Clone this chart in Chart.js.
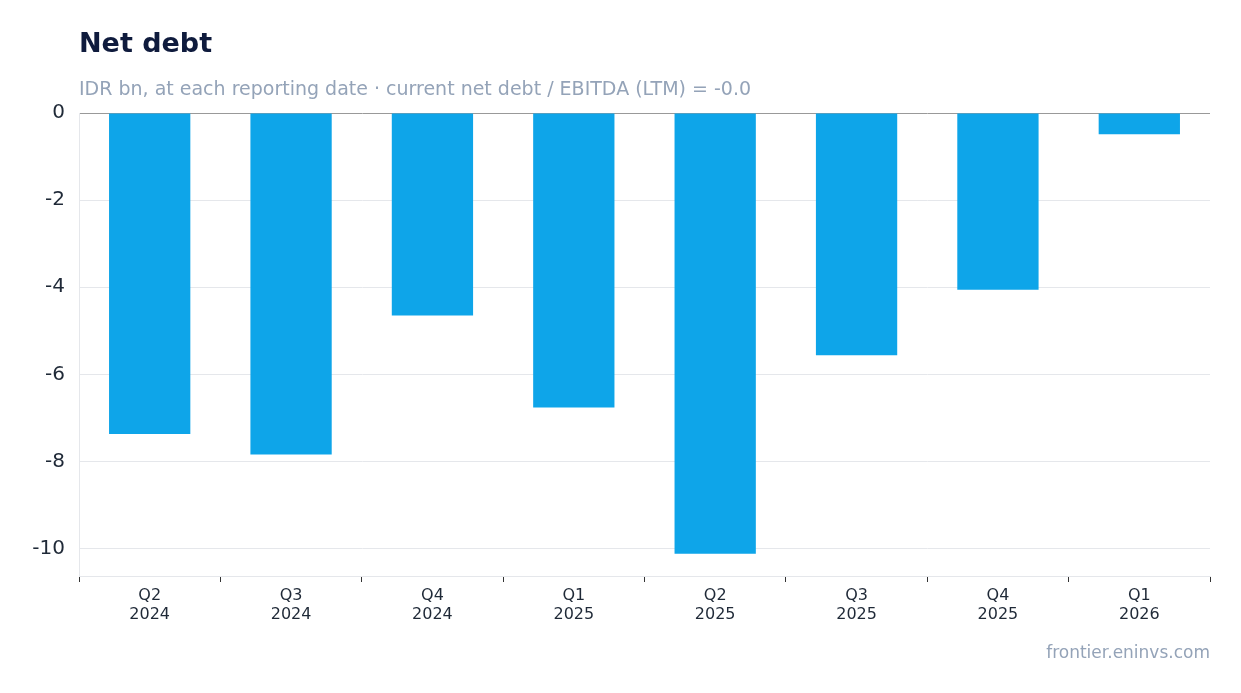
<!DOCTYPE html>
<html><head><meta charset="utf-8">
<script src="https://cdn.jsdelivr.net/npm/chart.js@4"></script>
<style>
body{margin:0;background:#fff;font-family:"DejaVu Sans",sans-serif;}
#wrap{position:relative;width:1241px;height:693px;}
#t{position:absolute;left:79px;top:27px;font-size:27px;font-weight:bold;color:#0f1b3d;}
#s{position:absolute;left:79px;top:77px;font-size:19px;color:#94a3b8;}
#f{position:absolute;right:31px;top:642px;font-size:17px;color:#94a3b8;}
canvas{position:absolute;left:0;top:0;}
</style></head><body>
<div id="wrap">
<canvas id="c" width="1241" height="693"></canvas>
<div id="t">Net debt</div>
<div id="s">IDR bn, at each reporting date · current net debt / EBITDA (LTM) = -0.0</div>
<div id="f">frontier.eninvs.com</div>
</div>
<script>
const categories=[["Q2","2024"],["Q3","2024"],["Q4","2024"],["Q1","2025"],["Q2","2025"],["Q3","2025"],["Q4","2025"],["Q1","2026"]];
const netDebt=[-7.37,-7.84,-4.65,-6.76,-10.12,-5.56,-4.06,-0.49];
const yTicks=[0,-2,-4,-6,-8,-10];
new Chart(document.getElementById('c'),{
type:'bar',
data:{labels:categories,datasets:[{data:netDebt,backgroundColor:'#0ea5e9',barPercentage:0.575,categoryPercentage:1}]},
options:{responsive:false,animation:false,
layout:{padding:{top:113,right:31,left:0,bottom:0}},
plugins:{legend:{display:false},tooltip:{enabled:false}},
scales:{
y:{min:-10.63,max:0,
afterBuildTicks:s=>{s.ticks=yTicks.map(v=>({value:v}));},
afterFit:s=>{s.width=79;},
grid:{color:c=>c.tick&&c.tick.value===0?'#999999':'#e5e7eb',drawTicks:false},
border:{color:'#e5e7eb'},
ticks:{color:'#1f2937',font:{size:20,family:'DejaVu Sans'},padding:14}},
x:{afterFit:s=>{s.height=117;},
grid:{drawOnChartArea:false,tickLength:6,color:'#333'},
border:{color:'#e5e7eb'},
ticks:{color:'#1f2937',font:{size:16,family:'DejaVu Sans'},padding:4}}
}}});
</script></body></html>
